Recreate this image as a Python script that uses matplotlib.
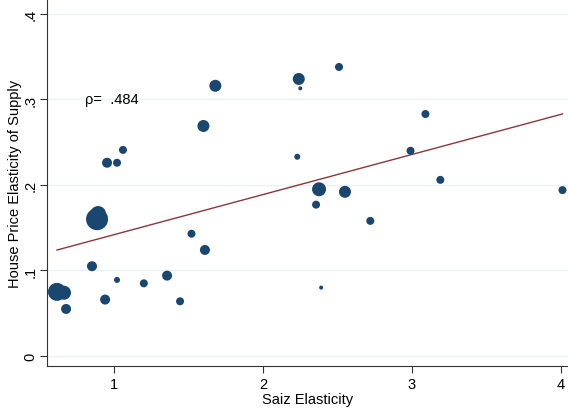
import matplotlib
matplotlib.use("Agg")
import matplotlib.pyplot as plt
import numpy as np

plt.rcParams['font.family'] = ['Liberation Sans', 'DejaVu Sans']

# metro areas: saiz elasticity, house price elasticity, marker weight (radius px)
saiz = [0.617, 0.664, 0.678, 0.852, 0.886, 0.893, 0.94, 0.953, 1.02, 1.02, 1.06,
        1.20, 1.356, 1.443, 1.52, 1.60, 1.61, 1.68, 2.24, 2.25, 2.23, 2.51,
        2.376, 2.55, 2.356, 2.72, 2.39, 2.99, 3.09, 3.19, 4.01]
hpe = [0.075, 0.074, 0.055, 0.105, 0.160, 0.166, 0.066, 0.226, 0.226, 0.089, 0.241,
       0.085, 0.094, 0.064, 0.143, 0.269, 0.124, 0.316, 0.324, 0.313, 0.233, 0.338,
       0.195, 0.192, 0.177, 0.158, 0.080, 0.240, 0.283, 0.206, 0.194]
weight = [9, 7, 5, 5, 11, 8, 5, 5, 4, 3, 4,
          4, 5, 4, 4, 6, 5, 6, 6, 2, 3, 4,
          7, 6, 4, 4, 2, 4, 4, 4, 4]

fit_intercept = 0.095
fit_slope = 0.0469
rho = ".484"

fig = plt.figure(figsize=(5.68, 4.14), dpi=100)
ax = fig.add_axes([47/568, 47/414, 521/568, 367/414])

s = [(1.44 * r) ** 2 for r in weight]
ax.scatter(saiz, hpe, s=s, color='#1a476f', edgecolors='none', zorder=3)

xf = np.array([min(saiz), max(saiz)])
ax.plot(xf, fit_intercept + fit_slope * xf, color='#90353b', lw=1.0, zorder=2)

ax.text(0.805, 0.3, "ρ=  " + rho, fontsize=10.5, va='center', ha='left')

ax.set_xlim(0.550, 4.047)
ax.set_ylim(-0.0117, 0.4175)
ax.set_xticks([1, 2, 3, 4])
ax.set_yticks([0, 0.1, 0.2, 0.3, 0.4])
ax.set_yticklabels(["0", ".1", ".2", ".3", ".4"], rotation=90, va='center')
ax.grid(axis='y', color='#eaf2f3', lw=1.0, zorder=0)
ax.set_axisbelow(True)
for sp in ['top', 'right']:
    ax.spines[sp].set_visible(False)
for sp in ['left', 'bottom']:
    ax.spines[sp].set_color('#333333')
ax.tick_params(direction='out', length=5, labelsize=10.5, color='#333333', pad=3)
ax.tick_params(axis='y', pad=2)
ax.set_xlabel("Saiz Elasticity", fontsize=10.5, labelpad=1)
ax.set_ylabel("House Price Elasticity of Supply", fontsize=10.5)
ax.yaxis.set_label_coords(-25/521, 0.5)

fig.savefig("out.png", dpi=100)
